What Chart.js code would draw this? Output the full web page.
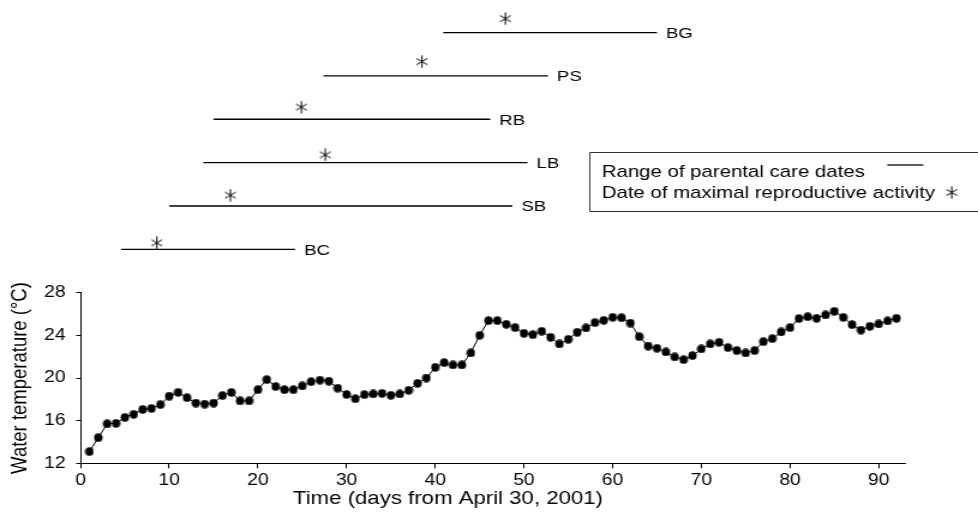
<!DOCTYPE html>
<html>
<head>
<meta charset="utf-8">
<script src="https://cdn.jsdelivr.net/npm/chart.js@4/dist/chart.umd.min.js"></script>
<style>
  html, body { margin: 0; padding: 0; background: #fff; overflow: hidden; }
  /* the source figure is stretched sideways, so the canvas is too */
  #wrap { width: 815px; height: 530px; transform: scaleX(1.2); transform-origin: 0 0; }
</style>
</head>
<body>
<div id="wrap"><canvas id="chart"></canvas></div>
<script>
'use strict';

// water temperature, one reading per day
let days = [
  1, 2, 3, 4, 5, 6, 7, 8, 9, 10, 11, 12, 13, 14, 15, 16, 17, 18, 19, 20,
  21, 22, 23, 24, 25, 26, 27, 28, 29, 30, 31, 32, 33, 34, 35, 36, 37, 38, 39, 40,
  41, 42, 43, 44, 45, 46, 47, 48, 49, 50, 51, 52, 53, 54, 55, 56, 57, 58, 59, 60,
  61, 62, 63, 64, 65, 66, 67, 68, 69, 70, 71, 72, 73, 74, 75, 76, 77, 78, 79, 80,
  81, 82, 83, 84, 85, 86, 87, 88, 89, 90, 91, 92
];
let temps = [
  13.1, 14.4, 15.7, 15.75, 16.3, 16.6, 17.05, 17.15, 17.5, 18.3,
  18.65, 18.15, 17.65, 17.55, 17.65, 18.35, 18.65, 17.85, 17.85, 18.9,
  19.85, 19.2, 18.9, 18.9, 19.25, 19.65, 19.8, 19.7, 19.05, 18.45,
  18.05, 18.44, 18.5, 18.56, 18.38, 18.5, 18.85, 19.5, 20.0, 21.0,
  21.44, 21.22, 21.22, 22.35, 24.0, 25.38, 25.38, 25.04, 24.72, 24.19,
  24.06, 24.38, 23.82, 23.19, 23.63, 24.29, 24.69, 25.19, 25.41, 25.69,
  25.65, 25.15, 23.88, 23.0, 22.79, 22.44, 21.97, 21.72, 22.1, 22.72,
  23.19, 23.35, 22.85, 22.57, 22.35, 22.57, 23.41, 23.69, 24.32, 24.72,
  25.57, 25.75, 25.6, 25.91, 26.26, 25.69, 25.0, 24.5, 24.85, 25.07,
  25.35, 25.6
];

// parental care ranges per species (row 1 = bottom)
let species = ['BG', 'PS', 'RB', 'LB', 'SB', 'BC'];
let rows = [6, 5, 4, 3, 2, 1];
let careStart = [40.9, 27.4, 15.0, 13.85, 10.0, 4.57];
let careEnd = [65.0, 52.7, 46.2, 50.4, 48.7, 24.2];
let peakDay = [47.9, 38.5, 24.9, 27.6, 16.9, 8.6];
let peakRow = [6.32, 5.33, 4.28, 3.18, 2.25, 1.15];

let xTicks = { min: 0, max: 93, step: 10 };
let yTicks = { min: 12, max: 28, step: 4 };

const FONT = '"Liberation Sans", Arial, Helvetica, sans-serif';
const SX = 1.2;

// markers are drawn narrower so they come out round after the stretch
function makeDot() {
  let c = document.createElement('canvas');
  c.width = 8;
  c.height = 9;
  let g = c.getContext('2d');
  g.fillStyle = '#000';
  g.beginPath();
  g.ellipse(4, 4.5, 4.2 / SX, 4.2, 0, 0, Math.PI * 2);
  g.fill();
  return c;
}

function makeStar() {
  let c = document.createElement('canvas');
  c.width = 11;
  c.height = 13;
  let g = c.getContext('2d');
  g.strokeStyle = '#000';
  g.lineWidth = 1;
  g.lineCap = 'round';
  let r = 5.8;
  g.beginPath();
  for (let a of [90, 30, 150]) {
    let dx = Math.cos(a * Math.PI / 180) * r / SX;
    let dy = Math.sin(a * Math.PI / 180) * r;
    g.moveTo(5.5 - dx, 6.5 + dy);
    g.lineTo(5.5 + dx, 6.5 - dy);
  }
  g.stroke();
  return c;
}

let dot = makeDot();
let star = makeStar();

let datasets = [];
datasets.push({
  data: days.map((d, i) => ({ x: d, y: temps[i] })),
  yAxisID: 'y',
  borderColor: '#000',
  borderWidth: 1,
  pointStyle: dot,
  pointRadius: 4,
  tension: 0
});
for (let i = 0; i < species.length; i++) {
  datasets.push({
    data: [{ x: careStart[i], y: rows[i] }, { x: careEnd[i], y: rows[i] }],
    yAxisID: 'yr',
    borderColor: '#000',
    borderWidth: 1.3,
    pointRadius: 0
  });
}
datasets.push({
  data: peakDay.map((d, i) => ({ x: d, y: peakRow[i] })),
  yAxisID: 'yr',
  showLine: false,
  pointStyle: star,
  pointRadius: 5
});

// no label overflow room is needed above the stacked axes
function noPad(s) {
  s.paddingTop = 0;
  s.paddingBottom = 0;
}

const extras = {
  id: 'extras',
  afterDatasetsDraw(chart) {
    let ctx = chart.ctx;
    let xs = chart.scales.x;
    let yr = chart.scales.yr;
    ctx.save();
    ctx.fillStyle = '#000';
    ctx.textBaseline = 'middle';
    ctx.textAlign = 'left';
    ctx.font = '15.5px ' + FONT;
    for (let i = 0; i < species.length; i++) {
      ctx.fillText(species[i], xs.getPixelForValue(careEnd[i]) + 7.5, yr.getPixelForValue(rows[i]) + 1);
    }

    // x axis title sits left of centre in the source
    ctx.textAlign = 'center';
    ctx.font = '18.5px ' + FONT;
    ctx.fillText('Time (days from April 30, 2001)', 373.3, 498.5);
    ctx.textAlign = 'left';

    // legend box
    ctx.strokeStyle = '#333';
    ctx.lineWidth = 1;
    ctx.beginPath();
    ctx.moveTo(chart.width + 2, 152.5);
    ctx.lineTo(491.5, 152.5);
    ctx.lineTo(491.5, 211.5);
    ctx.lineTo(chart.width + 2, 211.5);
    ctx.stroke();
    ctx.font = '17px ' + FONT;
    ctx.fillText('Range of parental care dates', 501.4, 172);
    ctx.fillText('Date of maximal reproductive activity', 501.4, 193);
    ctx.strokeStyle = '#000';
    ctx.lineWidth = 1.3;
    ctx.beginPath();
    ctx.moveTo(739.4, 165);
    ctx.lineTo(769.4, 165);
    ctx.stroke();
    ctx.drawImage(star, 793.1 - star.width / 2, 192.5 - star.height / 2);
    ctx.restore();
  }
};

new Chart(document.getElementById('chart'), {
  type: 'line',
  data: { datasets: datasets },
  plugins: [extras],
  options: {
    responsive: true,
    maintainAspectRatio: false,
    animation: false,
    events: [],
    layout: { padding: { top: 8, right: 60.6, bottom: 0, left: 0 } },
    plugins: { legend: { display: false }, tooltip: { enabled: false } },
    scales: {
      x: {
        type: 'linear',
        min: xTicks.min,
        max: xTicks.max,
        afterFit: s => { s.height = 66.7; },
        border: { color: '#000', width: 1 },
        grid: { drawOnChartArea: false, tickLength: 5, color: '#000' },
        ticks: { stepSize: xTicks.step, includeBounds: false, color: '#000', padding: 3, maxRotation: 0, font: { family: FONT, size: 16 } },
        title: { display: false }
      },
      y: {
        type: 'linear',
        position: 'left',
        stack: 'left',
        stackWeight: 170.6,
        min: yTicks.min,
        max: yTicks.max,
        afterFit: s => { s.width = 67.08; noPad(s); },
        border: { color: '#000', width: 1 },
        grid: { drawOnChartArea: false, tickLength: 3.5, color: '#000' },
        ticks: { stepSize: yTicks.step, color: '#000', padding: 9, font: { family: FONT, size: 16 } },
        title: { display: true, text: 'Water temperature (°C)', color: '#000', font: { family: FONT, size: 18.5 }, padding: { top: 5.6, bottom: 0 } }
      },
      yr: {
        type: 'linear',
        position: 'left',
        stack: 'left',
        stackWeight: 284.7,
        min: 0,
        max: 6.566,
        display: false,
        afterFit: noPad
      }
    }
  }
});
</script>
</body>
</html>
